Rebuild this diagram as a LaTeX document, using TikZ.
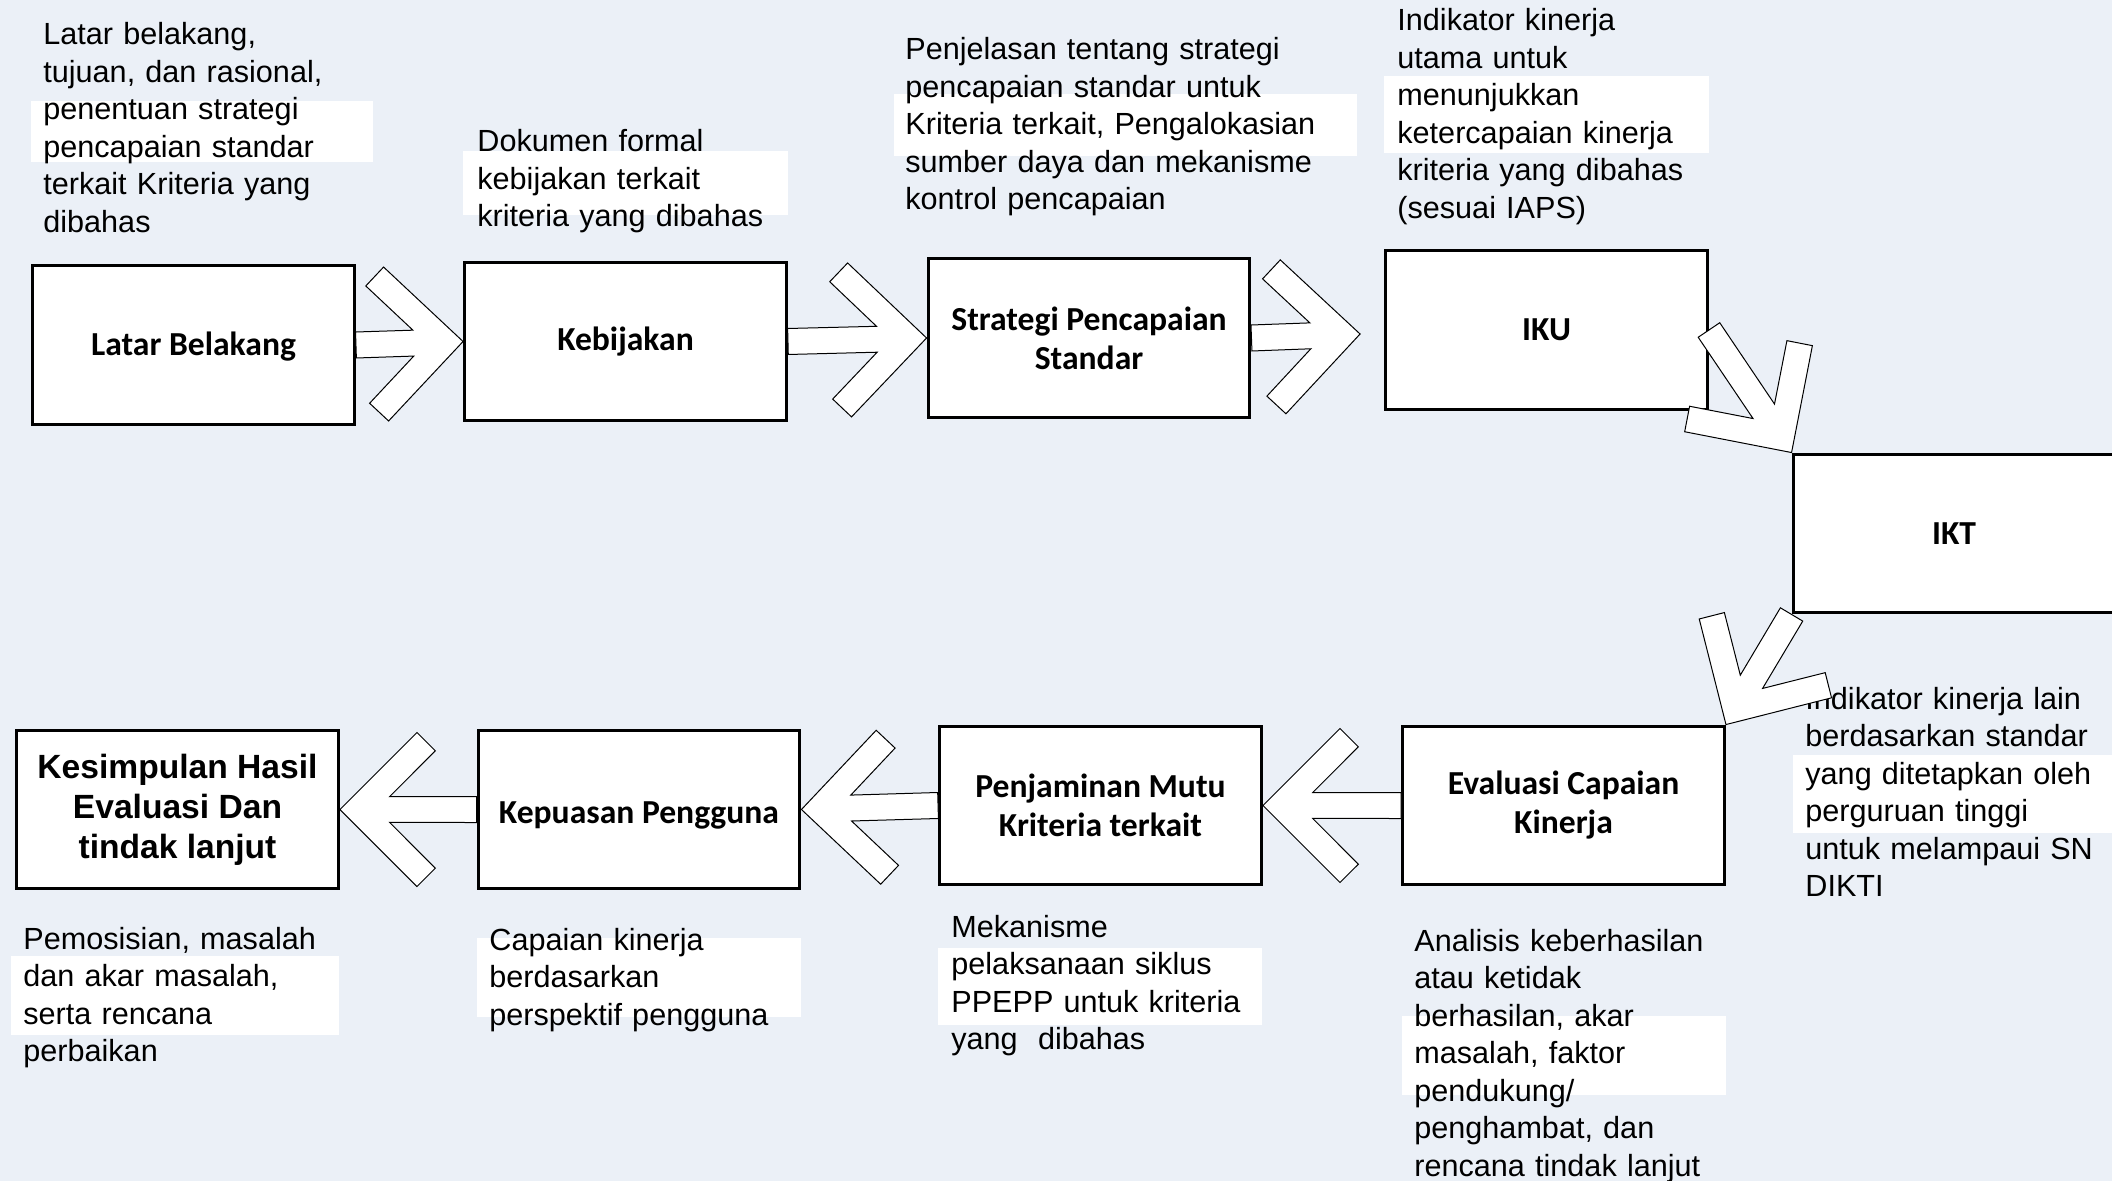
\documentclass[tikz,border=0pt]{standalone}
\usepackage{fontspec}
\setmainfont{Liberation Sans}
\newfontfamily\carl{Carlito}
\usetikzlibrary{calc}
\definecolor{bg}{RGB}{235,240,247}
\tikzset{
 box/.style={draw=black, line width=1.65pt, fill=white, minimum width=160.8pt, minimum height=79.3pt, inner sep=0pt, align=center},
 clab/.style={font=\carl\bfseries\fontsize{16.8pt}{19.5pt}\selectfont},
 alab/.style={font=\bfseries\fontsize{16.8pt}{20pt}\selectfont},
 desc/.style={anchor=base west, inner sep=0pt, align=left, text width=260pt, font=\fontsize{15.3pt}{18.75pt}\selectfont},
 patch/.style={fill=white, draw=none},
 arr/.style={draw=black, line width=0.5pt, fill=white, line join=miter},
}
\newcommand\blockarr[2]{%
 \draw[arr] (#2) -- ($(#2)!54.45pt!45:(#1)$) -- ($(#2)!56pt!31.6:(#1)$) -- ($(#2)!25.7pt!14.6:(#1)$) -- ($(#1)!6.5pt!-90:(#2)$) -- ($(#1)!6.5pt!90:(#2)$) -- ($(#2)!25.7pt!-14.6:(#1)$) -- ($(#2)!56pt!-31.6:(#1)$) -- ($(#2)!54.45pt!-45:(#1)$) -- cycle;}
\begin{document}
\begin{tikzpicture}[x=0.5pt,y=-0.5pt]
\useasboundingbox (0,0) rectangle (2112,1181);
\clip (0,0) rectangle (2112,1181);
\fill[bg] (0,0) rectangle (2112,1181);
% white patches behind texts
\fill[patch] (31,101) rectangle (373,162);
\fill[patch] (463,151) rectangle (788,215);
\fill[patch] (894,94) rectangle (1357,156);
\fill[patch] (1384,76) rectangle (1709,153);
\fill[patch] (1793,755) rectangle (2112,833);
\fill[patch] (1402,1016) rectangle (1726,1095);
\fill[patch] (938,948) rectangle (1262,1025);
\fill[patch] (477,938) rectangle (801,1017);
\fill[patch] (11,956) rectangle (339,1035);
% descriptions
\node[desc] (t1) at (43,45) {Latar belakang,\\tujuan, dan rasional,\\penentuan strategi\\pencapaian standar\\terkait Kriteria yang\\dibahas};
\node[desc] (t2) at (477,152) {Dokumen formal\\kebijakan terkait\\kriteria yang dibahas};
\node[desc] (t3) at (905,60) {Penjelasan tentang strategi\\pencapaian standar untuk\\Kriteria terkait, Pengalokasian\\sumber daya dan mekanisme\\kontrol pencapaian};
\node[desc] (t4) at (1397,31) {Indikator kinerja\\utama untuk\\menunjukkan\\ketercapaian kinerja\\kriteria yang dibahas\\(sesuai IAPS)};
\node[desc] (t5) at (1805,709) {Indikator kinerja lain\\berdasarkan standar\\yang ditetapkan oleh\\perguruan tinggi\\untuk melampaui SN\\DIKTI};
\node[desc] (t6) at (1414,951) {Analisis keberhasilan\\atau ketidak\\berhasilan, akar\\masalah, faktor\\pendukung/\\penghambat, dan\\rencana tindak lanjut};
\node[desc] (t7) at (951,937) {Mekanisme\\pelaksanaan siklus\\PPEPP untuk kriteria\\yang\ \ dibahas};
\node[desc] (t8) at (489,950) {Capaian kinerja\\berdasarkan\\perspektif pengguna};
\node[desc] (t9) at (23,949) {Pemosisian, masalah\\dan akar masalah,\\serta rencana\\perbaikan};
% boxes
\node[box,clab] (lb) at (193.5,345) {\raisebox{-1pt}[\height][\depth]{Latar Belakang}};
\node[box,clab] (kb) at (625.5,341.5) {Kebijakan};
\node[box,clab] (st) at (1089,338) {Strategi Pencapaian\\Standar};
\node[box,clab] (iku) at (1546.5,330) {IKU};
\node[box,clab] (ikt) at (1954,533.5) {IKT};
\node[box,clab] (ev) at (1563.5,805.5) {Evaluasi Capaian\\Kinerja};
\node[box,clab] (pm) at (1100.5,805.5) {Penjaminan Mutu\\Kriteria terkait};
\node[box,clab] (kp) at (639,809.5) {\raisebox{-3pt}[\height][\depth]{Kepuasan Pengguna}};
\node[box,alab] (ks) at (177.5,809.5) {Kesimpulan Hasil\\Evaluasi Dan\\tindak lanjut};
% arrows
\coordinate (a3t) at ($(iku.west)+(-24,4)$);
\blockarr{lb.east}{kb.west}
\blockarr{kb.east}{st.west}
\blockarr{st.east}{a3t}
\blockarr{iku.east}{ikt.north west}
\blockarr{ikt.south west}{ev.north east}
\blockarr{ev.west}{pm.east}
\blockarr{pm.west}{kp.east}
\blockarr{kp.west}{ks.east}
\end{tikzpicture}
\end{document}
